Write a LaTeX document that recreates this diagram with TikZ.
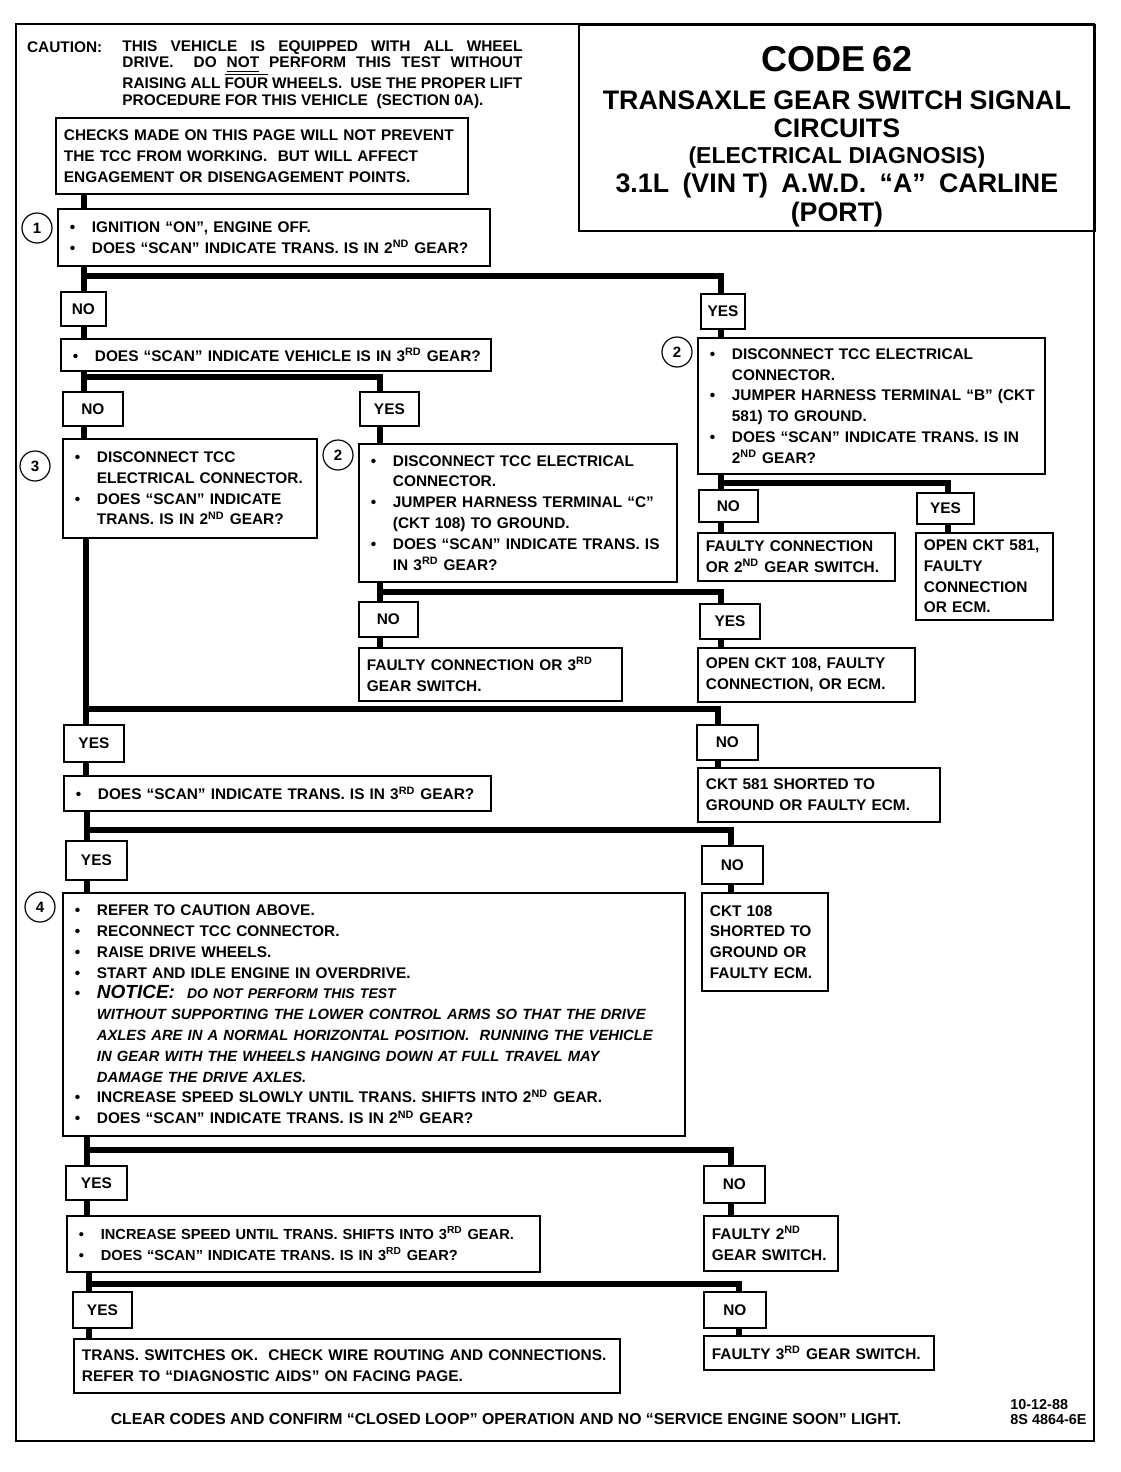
\documentclass[tikz,border=0pt]{standalone}
\usepackage{fontspec}
\setmainfont{Liberation Sans}
\newcommand\txt{\fontsize{7.7}{10.4}\selectfont\bfseries}
\newcommand\bul{\makebox[13pt][l]{\hspace{2pt}\textbullet}}
\newcommand\ind{\hspace*{13pt}}
\newcommand\sups[1]{\textsuperscript{#1}}
\newcommand\ovl[1]{\leavevmode\vbox{\hrule height 0.5pt\kern1.4pt\hbox{#1}}}

\begin{document}
\begin{tikzpicture}[x=0.5pt,y=-0.5pt,
  box/.style 2 args={draw,line width=0.9pt,anchor=north west,align=left,inner xsep=4pt,inner ysep=0pt,text width=#1,minimum height=#2,font=\txt},
  ans/.style={draw,line width=0.9pt,anchor=north west,inner sep=0pt,font=\txt},
  conn/.style={line width=2.6pt},
  num/.style={circle,draw,line width=0.6pt,minimum size=15pt,inner sep=0pt,font=\fontsize{7.5}{8}\selectfont\bfseries}]
\useasboundingbox (0,0) rectangle (1120,1472);
\draw[line width=1.3pt] (16,24) rectangle (1094,1441);

% caution and title
\node[anchor=west,font=\txt] (caut) at (20,47) {CAUTION:};
\node[anchor=north west,text width=200pt,align=justify,inner sep=0pt,font=\fontsize{7.7}{8.4}\selectfont\bfseries] (cautxt) at (122,40)
  {THIS VEHICLE IS EQUIPPED WITH ALL WHEEL\linebreak DRIVE.\ \ DO \underline{NOT} PERFORM THIS TEST WITHOUT\linebreak
   RAISING ALL \ovl{FOUR} WHEELS.\ \ USE THE PROPER LIFT\linebreak PROCEDURE FOR THIS VEHICLE\ \ (SECTION 0A).};
\node[draw,line width=0.9pt,anchor=north west,minimum width=258pt,minimum height=103pt,text width=250pt,align=center,inner sep=0pt,font=\bfseries] (title) at (578,24)
  {{\fontsize{18}{18}\selectfont\rule{0pt}{21pt}CODE 62\par}
   {\fontsize{13.4}{19}\selectfont TRANSAXLE GEAR SWITCH SIGNAL\par}
   {\fontsize{13.4}{14}\selectfont CIRCUITS\par}
   {\fontsize{11.5}{13}\selectfont (ELECTRICAL DIAGNOSIS)\par}
   {\fontsize{13.4}{14.5}\selectfont 3.1L\ \ (VIN T)\ \ A.W.D.\ \ ``A''\ \ CARLINE\par}
   {\fontsize{13.4}{14.5}\selectfont (PORT)\par}};

% steps
\node[box={198pt}{38pt}] (chk) at (55,117) {CHECKS MADE ON THIS PAGE WILL NOT PREVENT\\ THE TCC FROM WORKING.\ \ BUT WILL AFFECT\\ ENGAGEMENT OR DISENGAGEMENT POINTS.};
\node[box={208pt}{28.5pt}] (q1) at (57,208) {\bul IGNITION ``ON'', ENGINE OFF.\\ \bul DOES ``SCAN'' INDICATE TRANS. IS IN 2\sups{ND} GEAR?};
\node[box={207pt}{16pt}] (q2) at (60,338) {\bul DOES ``SCAN'' INDICATE VEHICLE IS IN 3\sups{RD} GEAR?};
\node[box={119pt}{49.5pt}] (s3) at (62,438) {\bul DISCONNECT TCC\\ \ind ELECTRICAL CONNECTOR.\\ \bul DOES ``SCAN'' INDICATE\\ \ind TRANS. IS IN 2\sups{ND} GEAR?};
\node[box={151pt}{69pt}] (s2a) at (358,443) {\bul DISCONNECT TCC ELECTRICAL\\ \ind CONNECTOR.\\ \bul JUMPER HARNESS TERMINAL ``C''\\ \ind (CKT 108) TO GROUND.\\ \bul DOES ``SCAN'' INDICATE TRANS. IS\\ \ind IN 3\sups{RD} GEAR?};
\node[box={165.5pt}{68pt}] (s2b) at (697,337) {\bul DISCONNECT TCC ELECTRICAL\\ \ind CONNECTOR.\\ \bul JUMPER HARNESS TERMINAL ``B'' (CKT\\ \ind 581) TO GROUND.\\ \bul DOES ``SCAN'' INDICATE TRANS. IS IN\\ \ind 2\sups{ND} GEAR?};
\node[box={90.5pt}{24pt}] (r1) at (697,532) {FAULTY CONNECTION\\ OR 2\sups{ND} GEAR SWITCH.};
\node[box={60.5pt}{43.5pt}] (r2) at (915,532) {OPEN CKT 581,\\ FAULTY\\ CONNECTION\\ OR ECM.};
\node[box={123.5pt}{26.5pt}] (r3) at (358,647) {FAULTY CONNECTION OR 3\sups{RD}\\ GEAR SWITCH.};
\node[box={100.5pt}{27pt}] (r4) at (697,647) {OPEN CKT 108, FAULTY\\ CONNECTION, OR ECM.};
\node[box={205.5pt}{17.5pt}] (q3) at (63,775) {\bul DOES ``SCAN'' INDICATE TRANS. IS IN 3\sups{RD} GEAR?};
\node[box={113pt}{27pt}] (r5) at (697,767) {CKT 581 SHORTED TO\\ GROUND OR FAULTY ECM.};
\node[box={303pt}{121.5pt}] (s4) at (62,892) {\bul REFER TO CAUTION ABOVE.\\ \bul RECONNECT TCC CONNECTOR.\\ \bul RAISE DRIVE WHEELS.\\
  \bul START AND IDLE ENGINE IN OVERDRIVE.\\
  \bul {\itshape\fontsize{9.5}{10.4}\selectfont NOTICE:}\hspace{6pt}{\itshape\fontsize{7}{10.4}\selectfont DO NOT PERFORM THIS TEST}\\
  \ind {\itshape\fontsize{7.4}{10.4}\selectfont WITHOUT SUPPORTING THE LOWER CONTROL ARMS SO THAT THE DRIVE}\\
  \ind {\itshape\fontsize{7.4}{10.4}\selectfont AXLES ARE IN A NORMAL HORIZONTAL POSITION.\ \ RUNNING THE VEHICLE}\\
  \ind {\itshape\fontsize{7.4}{10.4}\selectfont IN GEAR WITH THE WHEELS HANGING DOWN AT FULL TRAVEL MAY}\\
  \ind {\itshape\fontsize{7.4}{10.4}\selectfont DAMAGE THE DRIVE AXLES.}\\
  \bul INCREASE SPEED SLOWLY UNTIL TRANS. SHIFTS INTO 2\sups{ND} GEAR.\\ \bul DOES ``SCAN'' INDICATE TRANS. IS IN 2\sups{ND} GEAR?};
\node[box={55pt}{49pt}] (r6) at (701,892) {CKT 108\\ SHORTED TO\\ GROUND OR\\ FAULTY ECM.};
\node[box={228.5pt}{28pt},font=\fontsize{7.3}{10.4}\selectfont\bfseries] (q4) at (66,1215) {\bul INCREASE SPEED UNTIL TRANS. SHIFTS INTO 3\sups{RD} GEAR.\\ \bul DOES ``SCAN'' INDICATE TRANS. IS IN 3\sups{RD} GEAR?};
\node[box={59pt}{27.5pt}] (r7) at (703,1215) {FAULTY 2\sups{ND}\\ GEAR SWITCH.};
\node[box={265pt}{27pt}] (r8) at (73,1338) {TRANS. SWITCHES OK.\ \ CHECK WIRE ROUTING AND CONNECTIONS.\\ REFER TO ``DIAGNOSTIC AIDS'' ON FACING PAGE.};
\node[box={107pt}{17pt}] (r9) at (703,1335) {FAULTY 3\sups{RD} GEAR SWITCH.};

% answers and step numbers
\foreach \n/\x/\y/\w/\h/\t in {no1/60/291/22.5pt/17pt/NO, yes1/700/293/22pt/17.5pt/YES, no2/62/391/30pt/17pt/NO, yes2/359/391/29.5pt/17pt/YES,
  no3/698/489/29.5pt/16pt/NO, yes3/916/492/28.5pt/15.5pt/YES, no4/358/601/29.5pt/17.5pt/NO, yes4/699/603/30pt/17.5pt/YES,
  yes5/63/724/30pt/18.5pt/YES, no5/696/724/30.5pt/17.5pt/NO, yes6/65/840/30.5pt/19.5pt/YES, no6/701/845/30.5pt/19pt/NO,
  yes7/65/1165/30.5pt/17pt/YES, no7/703/1165/30.5pt/18.5pt/NO, yes8/72/1291/29.5pt/18pt/YES, no8/703/1291/31pt/18pt/NO}
  \node[ans,minimum width=\w,minimum height=\h] (\n) at (\x,\y) {\t};
\foreach \n/\x/\y/\t in {c1/37/228/1, c2a/338/455/2, c2b/677/352/2, c3/35/466/3, c4/40/907/4}
  \node[num] (\n) at (\x,\y) {\t};

% flow lines
\coordinate (t) at (84,200);
\draw[conn] (chk.south -| t) -- (q1.north -| t);
\foreach \q/\l/\r/\ln/\rn/\jx/\kx/\jy in {q1/no1/yes1/q2/s2b/84/721/276, q2/no2/yes2/s3/s2a/84/380/377, s2b/no3/yes3/r1/r2/721/948/483,
  s2a/no4/yes4/r3/r4/380/721/592, s3/yes5/no5/q3/r5/86/718/709, q3/yes6/no6/s4/r6/87/731/830, s4/yes7/no7/q4/r7/87/731/1150,
  q4/yes8/no8/r8/r9/89/739/1284}{
  \coordinate (j) at (\jx,\jy); \coordinate (k) at (\kx,\jy);
  \draw[conn] (\q.south -| j) -- (\l.north -| j) (\l.south -| j) -- (\ln.north -| j);
  \draw[conn] (j) -- (k) -- (\r.north -| k) (\r.south -| k) -- (\rn.north -| k);}

% footer
\node[font=\fontsize{7.9}{9}\selectfont\bfseries] (foot) at (506,1419) {CLEAR CODES AND CONFIRM ``CLOSED LOOP'' OPERATION AND NO ``SERVICE ENGINE SOON'' LIGHT.};
\node[anchor=north west,align=left,inner sep=0pt,font=\fontsize{7.2}{7.6}\selectfont\bfseries] (docref) at (1010,1399) {10-12-88\\8S 4864-6E};
\end{tikzpicture}
\end{document}
